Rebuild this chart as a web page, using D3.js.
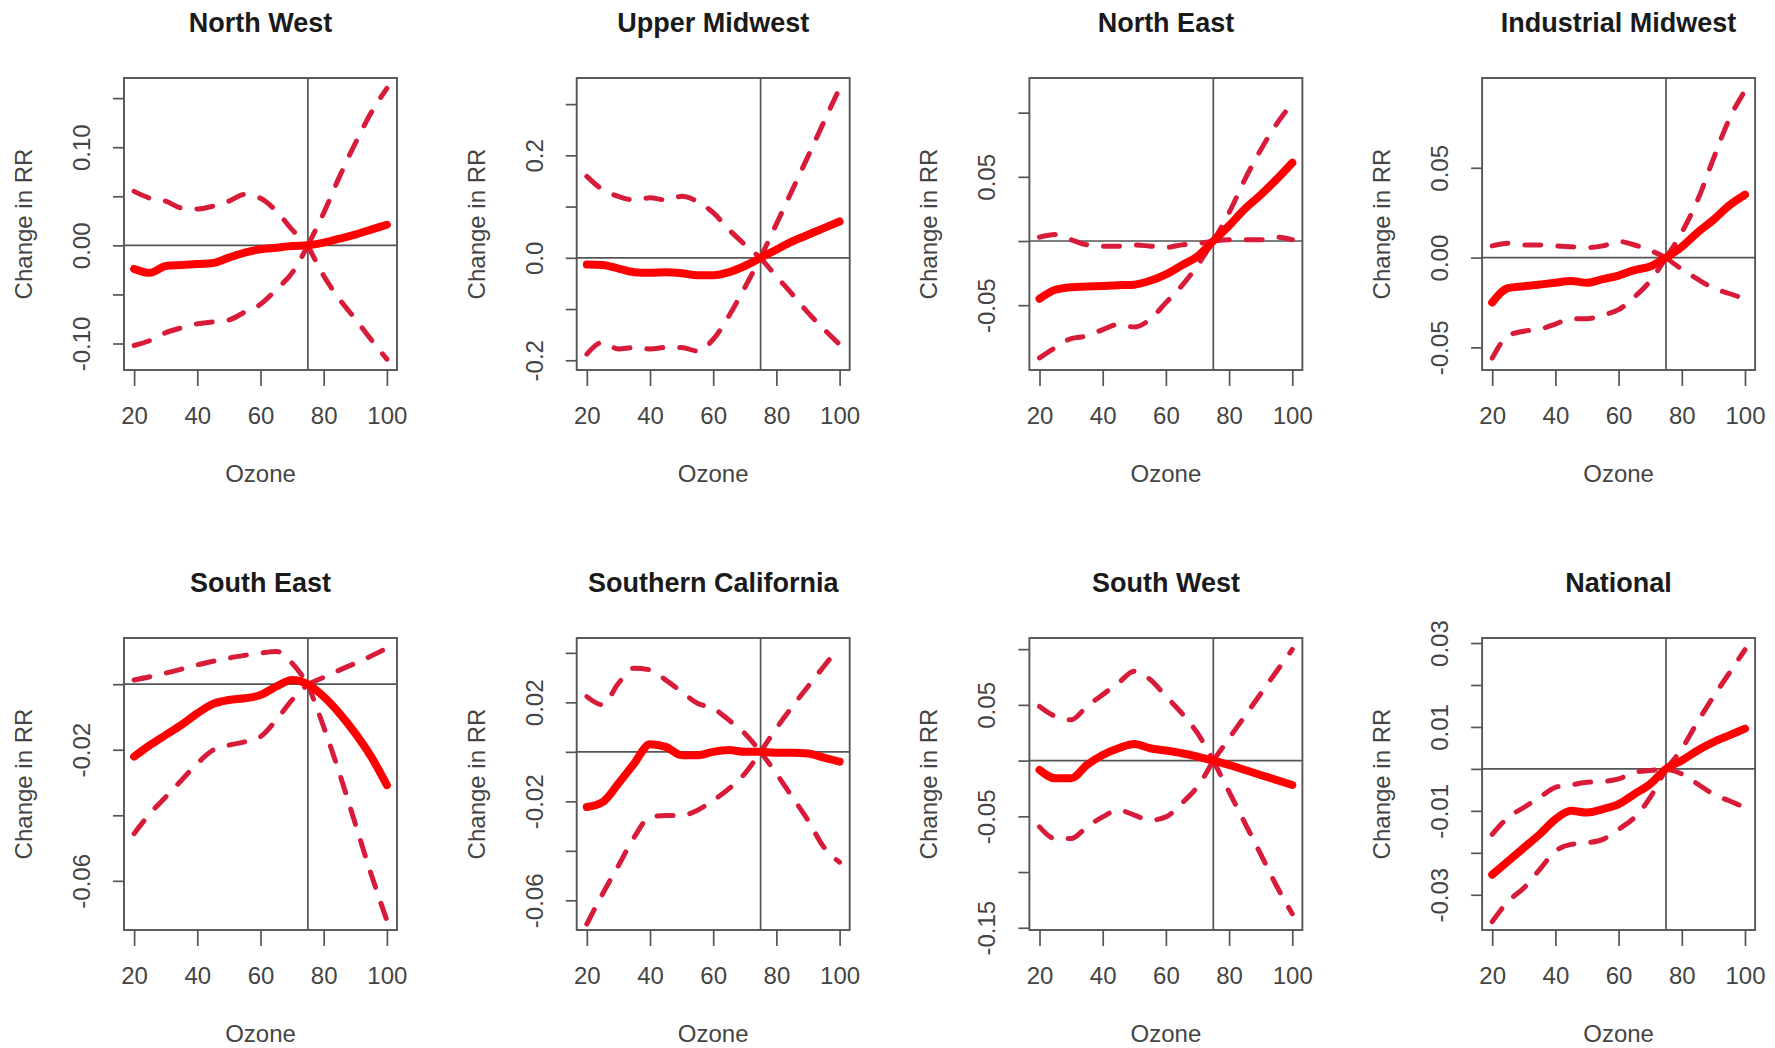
<!DOCTYPE html>
<html><head><meta charset="utf-8">
<script src="https://cdn.jsdelivr.net/npm/d3@7"></script>
<style>
body{margin:0;background:#fff}
svg{display:block}
text{font-family:"Liberation Sans",Arial,Helvetica,sans-serif}
</style>
</head><body>
<svg id="chart" width="1775" height="1048"></svg>
<script>
// ---------------- data ----------------
const ozone = [20,25,30,35,40,45,50,55,60,65,70,75,80,85,90,95,100];
const refOzone = 75;
const xTicks = [20,40,60,80,100];
const xDomain = [16.8,103.2];

const regionNames = ["North West","Upper Midwest","North East","Industrial Midwest",
                     "South East","Southern California","South West","National"];

const fitNW   = [-0.024,-0.028,-0.021,-0.020,-0.019,-0.018,-0.0125,-0.0075,-0.004,-0.0024,-0.0007,0,0.0027,0.0068,0.011,0.016,0.021];
const upperNW = [0.055,0.048,0.045,0.038,0.037,0.040,0.045,0.052,0.048,0.035,0.016,0,0.033,0.070,0.104,0.135,0.160];
const lowerNW = [-0.102,-0.097,-0.089,-0.084,-0.080,-0.078,-0.076,-0.068,-0.060,-0.045,-0.028,0,-0.031,-0.055,-0.075,-0.096,-0.116];

const fitUM   = [-0.013,-0.014,-0.021,-0.028,-0.029,-0.028,-0.030,-0.034,-0.034,-0.028,-0.016,0,0.016,0.032,0.045,0.058,0.071];
const upperUM = [0.159,0.133,0.120,0.113,0.117,0.113,0.120,0.110,0.088,0.055,0.026,0,0.066,0.132,0.198,0.265,0.331];
const lowerUM = [-0.188,-0.165,-0.178,-0.175,-0.178,-0.175,-0.175,-0.182,-0.159,-0.113,-0.058,0,-0.036,-0.071,-0.107,-0.139,-0.169];

const fitNE   = [-0.045,-0.038,-0.036,-0.0355,-0.035,-0.0345,-0.034,-0.031,-0.026,-0.019,-0.012,0,0.012,0.025,0.036,0.048,0.061];
const upperNE = [0.003,0.005,0.001,-0.003,-0.004,-0.004,-0.003,-0.004,-0.005,-0.003,-0.002,0,0.022,0.048,0.071,0.091,0.1075];
const lowerNE = [-0.091,-0.083,-0.076,-0.074,-0.069,-0.065,-0.067,-0.061,-0.048,-0.035,-0.019,0,0.001,0.001,0.001,0.003,0.001];

const fitIM   = [-0.025,-0.017,-0.016,-0.015,-0.014,-0.013,-0.014,-0.012,-0.010,-0.007,-0.005,0,0.006,0.014,0.021,0.029,0.035];
const upperIM = [0.0065,0.008,0.007,0.007,0.0065,0.006,0.0056,0.0065,0.009,0.007,0.004,0,0.014,0.032,0.055,0.077,0.093];
const lowerIM = [-0.056,-0.0435,-0.041,-0.040,-0.037,-0.034,-0.034,-0.032,-0.029,-0.022,-0.013,0,-0.0065,-0.012,-0.017,-0.020,-0.023];

const fitSE   = [-0.0221,-0.0186,-0.0155,-0.0124,-0.0089,-0.006,-0.0048,-0.0043,-0.0033,-0.0007,0.0013,0,-0.0038,-0.0089,-0.015,-0.0221,-0.0308];
const upperSE = [0.0013,0.0023,0.0034,0.0046,0.0059,0.007,0.008,0.0088,0.0095,0.010,0.0064,0,0.0021,0.0043,0.0064,0.0086,0.011];
const lowerSE = [-0.0456,-0.0395,-0.0344,-0.0293,-0.0242,-0.0201,-0.0186,-0.0176,-0.016,-0.0109,-0.0048,0,-0.013,-0.0272,-0.0426,-0.0579,-0.0721];

const fitSC   = [-0.0223,-0.0203,-0.0128,-0.0047,0.0031,0.002,-0.0014,-0.0014,0,0.0007,0,0,-0.0004,-0.0004,-0.0007,-0.0023,-0.004];
const upperSC = [0.0223,0.019,0.0277,0.0338,0.0331,0.029,0.0243,0.0196,0.0176,0.0128,0.0074,0,0.0095,0.0182,0.0264,0.0345,0.0426];
const lowerSC = [-0.0696,-0.0574,-0.046,-0.0345,-0.0264,-0.0257,-0.0257,-0.0236,-0.0196,-0.0149,-0.0088,0,-0.0088,-0.0182,-0.0277,-0.0385,-0.0446];

const fitSW   = [-0.0084,-0.0159,-0.0159,-0.0039,0.0051,0.0111,0.015,0.0111,0.009,0.0066,0.0036,0,-0.0039,-0.0084,-0.0129,-0.0174,-0.0219];
const upperSW = [0.0486,0.0396,0.0366,0.0486,0.0592,0.0697,0.0802,0.0727,0.0577,0.0426,0.0246,0,0.020,0.040,0.060,0.080,0.0997];
const lowerSW = [-0.0595,-0.070,-0.070,-0.0595,-0.0505,-0.0444,-0.0489,-0.0535,-0.0505,-0.0384,-0.0234,0,-0.028,-0.056,-0.084,-0.1123,-0.1375];

const fitNat   = [-0.0252,-0.022,-0.0188,-0.0156,-0.012,-0.010,-0.0104,-0.0096,-0.0084,-0.006,-0.0036,0,0.002,0.0044,0.0064,0.008,0.0096];
const upperNat = [-0.0156,-0.0116,-0.0092,-0.0068,-0.0044,-0.0038,-0.0032,-0.003,-0.0024,-0.0008,-0.0004,0,0.0048,0.0112,0.0172,0.0228,0.0284];
const lowerNat = [-0.0364,-0.0316,-0.0284,-0.024,-0.0196,-0.018,-0.0176,-0.0168,-0.0144,-0.0116,-0.0068,0,-0.0012,-0.0036,-0.006,-0.0076,-0.0092];

const yDomains = [[-0.127,0.1705],[-0.219,0.351],[-0.1005,0.127],[-0.0626,0.1],
                  [-0.075,0.0141],[-0.072,0.046],[-0.152,0.110],[-0.0384,0.0312]];
const yTicks = [[-0.10,-0.05,0,0.05,0.10,0.15],[-0.2,-0.1,0,0.1,0.2,0.3],[-0.05,0,0.05,0.10],[-0.05,0,0.05],
                [-0.06,-0.04,-0.02,0],[-0.06,-0.04,-0.02,0,0.02,0.04],[-0.15,-0.10,-0.05,0,0.05,0.10],[-0.03,-0.02,-0.01,0,0.01,0.02,0.03]];
const yTickLabels = [["-0.10","0.00","0.10"],["-0.2","0.0","0.2"],["-0.05","0.05"],["-0.05","0.00","0.05"],
                     ["-0.06","-0.02"],["-0.06","-0.02","0.02"],["-0.15","-0.05","0.05"],["-0.03","-0.01","0.01","0.03"]];
const yDigits = [2,1,2,2,2,2,2,2];

const fits   = [fitNW,fitUM,fitNE,fitIM,fitSE,fitSC,fitSW,fitNat];
const uppers = [upperNW,upperUM,upperNE,upperIM,upperSE,upperSC,upperSW,upperNat];
const lowers = [lowerNW,lowerUM,lowerNE,lowerIM,lowerSE,lowerSC,lowerSW,lowerNat];

// ---------------- layout ----------------
const svg = d3.select("#chart");
svg.append("rect").attr("width",1775).attr("height",1048).attr("fill","#fff");
const colLeft = c => 124 + c*452.7;
const rowTop = [78, 638];
const W = 273, H = 292;
const axisCol = "#555", textCol = "#444";
const red = "#ff0000", dashRed = "#d91b3a";

regionNames.forEach((name, i) => {
  const col = i % 4, row = Math.floor(i / 4);
  const g = svg.append("g").attr("transform", `translate(${colLeft(col)},${rowTop[row]})`);
  const x = d3.scaleLinear().domain(xDomain).range([0, W]);
  const y = d3.scaleLinear().domain(yDomains[i]).range([H, 0]);

  const pts = arr => ozone.map((o, k) => ({o, v: arr[k]}));
  const line = d3.line().x(d => x(d.o)).y(d => y(d.v)).curve(d3.curveMonotoneX);

  // reference lines
  g.append("line").attr("x1",0).attr("x2",W).attr("y1",y(0)).attr("y2",y(0))
    .attr("stroke",axisCol).attr("stroke-width",1.7);
  g.append("line").attr("x1",x(refOzone)).attr("x2",x(refOzone)).attr("y1",0).attr("y2",H)
    .attr("stroke",axisCol).attr("stroke-width",1.7);

  // confidence bands (dashed), split at reference
  [uppers[i], lowers[i]].forEach(arr => {
    const p = pts(arr);
    [p.filter(d => d.o <= refOzone), p.filter(d => d.o >= refOzone)].forEach(seg => {
      g.append("path").attr("d", line(seg)).attr("fill","none")
        .attr("stroke", dashRed).attr("stroke-width", 5)
        .attr("stroke-dasharray","16,17").attr("stroke-linecap","round");
    });
  });

  // fitted curve
  g.append("path").attr("d", line(pts(fits[i]))).attr("fill","none")
    .attr("stroke", red).attr("stroke-width", 8).attr("stroke-linecap","round").attr("stroke-linejoin","round");

  // box
  g.append("rect").attr("x",0).attr("y",0).attr("width",W).attr("height",H)
    .attr("fill","none").attr("stroke",axisCol).attr("stroke-width",1.9);

  // x axis
  const xa = g.append("g").attr("transform",`translate(0,${H})`)
    .call(d3.axisBottom(x).tickValues(xTicks).tickSize(16).tickSizeOuter(0).tickFormat(d3.format("d")));
  xa.select(".domain").remove();
  xa.selectAll(".tick line").attr("stroke",axisCol).attr("stroke-width",1.7);
  xa.selectAll(".tick text").attr("y",54).attr("dy",0).attr("fill",textCol)
    .style("font-size","24px");

  // y axis
  const labs = yTickLabels[i];
  const ya = g.append("g")
    .call(d3.axisLeft(y).tickValues(yTicks[i]).tickSize(11).tickSizeOuter(0)
      .tickFormat(v => { const t = (Math.abs(v) < 1e-9) ? (0).toFixed(yDigits[i]) : v.toFixed(yDigits[i]); return labs.includes(t) ? t : ""; }));
  ya.select(".domain").remove();
  ya.selectAll(".tick line").attr("stroke",axisCol).attr("stroke-width",1.7);
  ya.selectAll(".tick text").attr("transform","rotate(-90)").attr("x",0).attr("y",-34).attr("dy",0)
    .attr("text-anchor","middle").attr("fill",textCol).style("font-size","24px");

  // titles
  g.append("text").attr("x",W/2).attr("y",-46).attr("text-anchor","middle")
    .attr("fill","#1a1a1a").style("font-size","27px").style("font-weight","bold").text(name);
  g.append("text").attr("x",W/2).attr("y",H+112).attr("text-anchor","middle")
    .attr("fill",textCol).style("font-size","24px").text("Ozone");
  g.append("text").attr("transform",`translate(-92,${H/2}) rotate(-90)`).attr("text-anchor","middle")
    .attr("fill",textCol).style("font-size","24px").text("Change in RR");
});
</script>
</body></html>
